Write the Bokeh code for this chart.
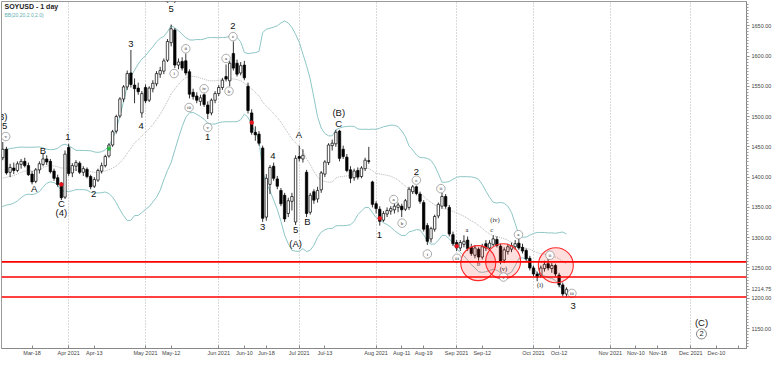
import numpy as np
import pandas as pd
from bokeh.plotting import figure
from bokeh.models import (Range1d, FixedTicker, NumeralTickFormatter,
                          Span, Label, ColumnDataSource)
from bokeh.core.properties import value
from bokeh.embed import file_html
from bokeh.resources import INLINE

# ---------------- data ----------------
# closes before the visible window (Feb 2021), only used to warm up the Bollinger band
pre_close = [1384, 1378, 1390, 1382, 1374, 1368, 1377, 1391, 1398, 1394,
             1386, 1372, 1380, 1396, 1404, 1416, 1410, 1424, 1436, 1444]

# daily bars, index 0 = 8 Mar 2021 (trading days)
open_ = [1432, 1446, 1408, 1415, 1411, 1421, 1426, 1419, 1405, 1393,
         1412, 1421, 1430, 1426, 1410, 1399, 1390, 1367, 1449, 1407,
         1418, 1423, 1408, 1413, 1401, 1385, 1395, 1410, 1419, 1435,
         1453, 1476, 1501, 1529, 1549, 1572, 1552, 1547, 1506, 1548,
         1527, 1546, 1554, 1570, 1575, 1593, 1622, 1643, 1585, 1591,
         1592, 1574, 1540, 1534, 1525, 1536, 1519, 1506, 1527, 1538,
         1548, 1566, 1559, 1604, 1588, 1572, 1585, 1550, 1506, 1474,
         1471, 1448, 1334, 1388, 1418, 1397, 1378, 1370, 1340, 1360,
         1326, 1434, 1430, 1408, 1342, 1376, 1364, 1379, 1405, 1424,
         1452, 1455, 1476, 1446, 1433, 1412, 1399, 1411, 1401, 1414,
         1427, 1392, 1356, 1347, 1329, 1339, 1344, 1346, 1350, 1352,
         1347, 1350, 1376, 1384, 1372, 1358, 1320, 1298, 1314, 1336,
         1352, 1368, 1350, 1305, 1292, 1283, 1289, 1296, 1284, 1271,
         1281, 1268, 1290, 1283, 1289, 1297, 1286, 1263, 1277, 1281,
         1285, 1291, 1284, 1279, 1266, 1250, 1240, 1238, 1249, 1257,
         1249, 1254, 1238, 1222, 1207]
high_ = [1458, 1450, 1422, 1424, 1426, 1430, 1432, 1424, 1410, 1415,
         1426, 1440, 1436, 1430, 1414, 1404, 1392, 1444, 1455, 1423,
         1428, 1426, 1418, 1416, 1404, 1400, 1414, 1424, 1437, 1456,
         1478, 1503, 1532, 1552, 1576, 1610, 1563, 1556, 1542, 1553,
         1550, 1560, 1575, 1582, 1596, 1628, 1652, 1646, 1596, 1598,
         1604, 1578, 1546, 1540, 1536, 1538, 1525, 1530, 1542, 1552,
         1564, 1586, 1592, 1624, 1594, 1590, 1592, 1556, 1512, 1484,
         1476, 1452, 1405, 1420, 1424, 1402, 1382, 1374, 1366, 1374,
         1436, 1452, 1446, 1412, 1374, 1380, 1384, 1410, 1428, 1456,
         1462, 1478, 1478, 1452, 1438, 1418, 1414, 1416, 1418, 1432,
         1450, 1394, 1360, 1352, 1344, 1350, 1352, 1358, 1358, 1356,
         1364, 1384, 1387, 1386, 1376, 1362, 1324, 1318, 1338, 1358,
         1374, 1372, 1354, 1310, 1296, 1296, 1304, 1302, 1290, 1288,
         1284, 1290, 1296, 1296, 1304, 1302, 1290, 1284, 1290, 1292,
         1296, 1300, 1290, 1282, 1270, 1254, 1244, 1254, 1262, 1266,
         1258, 1257, 1242, 1226, 1218]
low_ = [1428, 1404, 1400, 1405, 1408, 1414, 1416, 1402, 1388, 1390,
        1406, 1418, 1420, 1406, 1394, 1384, 1362, 1364, 1402, 1400,
        1410, 1405, 1402, 1398, 1380, 1382, 1392, 1406, 1416, 1432,
        1450, 1472, 1498, 1524, 1544, 1548, 1522, 1536, 1498, 1522,
        1524, 1540, 1550, 1564, 1570, 1590, 1616, 1580, 1578, 1576,
        1568, 1530, 1528, 1522, 1518, 1516, 1496, 1502, 1522, 1534,
        1544, 1558, 1550, 1576, 1566, 1568, 1560, 1505, 1470, 1460,
        1452, 1326, 1328, 1372, 1394, 1380, 1352, 1326, 1334, 1345,
        1321, 1426, 1424, 1334, 1338, 1356, 1358, 1374, 1400, 1420,
        1444, 1450, 1426, 1430, 1408, 1390, 1394, 1396, 1398, 1410,
        1422, 1350, 1340, 1320, 1326, 1334, 1338, 1340, 1342, 1334,
        1344, 1346, 1372, 1370, 1356, 1310, 1288, 1292, 1310, 1332,
        1348, 1348, 1302, 1286, 1278, 1278, 1284, 1278, 1270, 1266,
        1262, 1264, 1278, 1280, 1285, 1284, 1256, 1258, 1272, 1276,
        1280, 1280, 1274, 1262, 1246, 1236, 1228, 1234, 1244, 1246,
        1242, 1236, 1218, 1203, 1202]
close_ = [1446, 1407, 1416, 1411, 1422, 1426, 1419, 1404, 1392, 1412,
          1422, 1430, 1425, 1409, 1398, 1388, 1366, 1438, 1406, 1419,
          1424, 1408, 1414, 1401, 1384, 1396, 1411, 1419, 1434, 1453,
          1475, 1500, 1529, 1549, 1571, 1553, 1546, 1541, 1538, 1526,
          1547, 1555, 1571, 1576, 1592, 1624, 1645, 1585, 1590, 1580,
          1572, 1537, 1533, 1527, 1531, 1520, 1505, 1527, 1538, 1548,
          1560, 1562, 1588, 1580, 1570, 1584, 1564, 1510, 1474, 1470,
          1456, 1332, 1398, 1416, 1398, 1385, 1356, 1331, 1361, 1368,
          1431, 1431, 1436, 1340, 1370, 1362, 1378, 1407, 1425, 1453,
          1456, 1474, 1431, 1434, 1411, 1398, 1410, 1400, 1415, 1428,
          1426, 1355, 1348, 1327, 1340, 1345, 1348, 1352, 1354, 1346,
          1361, 1380, 1384, 1373, 1360, 1314, 1294, 1315, 1335, 1355,
          1368, 1352, 1306, 1290, 1283, 1292, 1294, 1282, 1274, 1283,
          1268, 1285, 1283, 1291, 1298, 1287, 1261, 1280, 1285, 1287,
          1290, 1283, 1278, 1265, 1250, 1240, 1235, 1250, 1256, 1250,
          1254, 1240, 1222, 1207, 1214.75]

# date axis (bar index -> label)
tick_idx = [8, 18, 25, 39, 46, 59, 66, 72, 81, 88, 102, 109, 115, 124, 131,
            145, 152, 166, 173, 179, 188, 195, 201]
tick_labels = ["Mar-18", "Apr 2021", "Apr-13", "May 2021", "May-12", "Jun 2021",
               "Jun-10", "Jun-18", "Jul 2021", "Jul-13", "Aug 2021", "Aug-11",
               "Aug-19", "Sep 2021", "Sep-12", "Oct 2021", "Oct-12", "Nov 2021",
               "Nov-10", "Nov-18", "Dec 2021", "Dec-10", ""]
month_idx = [18, 39, 59, 81, 102, 124, 145, 166, 188]

# price axis
price_ticks = [1150, 1200, 1250, 1300, 1350, 1400, 1450, 1500, 1550, 1600, 1650]

# horizontal support / resistance levels
levels = [1260, 1235, 1202]
last_price = 1214.75

# Elliott wave labels
wave_big_txt = ["(3)", "5", "A", "B", "C", "(4)", "1", "2", "3", "4", "(3)", "5", "1", "2",
                "3", "4", "A", "5", "(A)", "B", "C", "(B)", "1", "2", "3", "(C)"]
wave_big_x = [-0.3, 0.5, 8.6, 10.95, 16, 16, 17.8, 24.8, 35, 37.8, 46, 46, 56, 62.9,
              71, 73.8, 80.9, 80, 80, 83.2, 91.8, 91.8, 102.9, 113, 155.8, 190.9]
wave_big_y = [1500, 1484, 1381, 1444, 1357, 1342, 1467, 1372, 1619, 1484, 1696, 1678, 1467, 1649,
              1317, 1435, 1470, 1313, 1291, 1327, 1489, 1506, 1305, 1409, 1187, 1160]

wave_circ_txt = ["v", "i", "ii", "iii", "iv", "v", "a", "b", "c", "a", "b", "c",
                 "i", "ii", "iii", "v", "a", "ii", "iii"]
wave_circ_x = [0.8, 46.8, 50, 50.9, 55, 56, 61, 61.8, 62.9, 106.8, 109.1, 113,
               116, 119.7, 124.1, 136.8, 140.9, 149.5, 155.5]
wave_circ_y = [1467, 1571, 1612, 1515, 1546, 1482, 1596, 1542, 1632, 1363, 1324, 1395,
               1273, 1381, 1266, 1235, 1305, 1271, 1208]

wave_small_txt = ["a", "b", "c", "(iv)", "(v)", "(i)"]
wave_small_x = [126.8, 130, 133.6, 134.5, 136.8, 146.8]
wave_small_y = [1313, 1257, 1313, 1330, 1249, 1223]

red_dot_x = [16, 68, 103, 124]
red_dot_y = [1388, 1490, 1332, 1286]
green_dot_x = [29]
green_dot_y = [1447]

zone_x = [129.9, 136.7, 151.1]
zone_y = [1258, 1261, 1254.5]

# ---------------- figure ----------------
n = len(close_)
idx = np.arange(n)
o = np.array(open_, float)
h = np.array(high_, float)
l = np.array(low_, float)
c = np.array(close_, float)
up = c >= o

X0, X1 = -0.354, 203.2
p = figure(width=774, height=358, output_backend="svg", toolbar_location=None,
           x_range=Range1d(X0, X1), y_range=Range1d(1117, 1690),
           y_axis_location="right", min_border_left=1, min_border_top=1,
           min_border_right=0, min_border_bottom=0)
p.background_fill_color = "white"
p.border_fill_color = "white"
p.outline_line_color = "#9a9a9a"
p.outline_line_width = 1

# axes
ya = p.yaxis[0]
ya.ticker = FixedTicker(ticks=price_ticks + [last_price],
                        minor_ticks=list(range(1120, 1690, 5)))
ya.formatter = NumeralTickFormatter(format="0.00")
ya.major_label_text_font = "Liberation Sans"
ya.major_label_text_font_size = "5.5px"
ya.major_label_text_color = "#444444"
ya.major_tick_in = 0
ya.major_tick_out = 3
ya.minor_tick_in = 0
ya.minor_tick_out = 2
ya.major_label_standoff = 2
ya.axis_line_color = "#888888"
ya.major_tick_line_color = "#888888"
ya.minor_tick_line_color = "#999999"

xa = p.xaxis[0]
xa.ticker = FixedTicker(ticks=tick_idx)
xa.major_label_overrides = {t: s for t, s in zip(tick_idx, tick_labels)}
xa.major_label_text_font = "Liberation Sans"
xa.major_label_text_font_size = "5.5px"
xa.major_label_text_color = "#444444"
xa.major_tick_in = 3
xa.major_tick_out = 0
xa.minor_tick_line_color = None
xa.major_label_standoff = 1
xa.axis_line_color = "#888888"
xa.major_tick_line_color = "#888888"

p.ygrid.visible = False
p.xgrid.ticker = FixedTicker(ticks=month_idx)
p.xgrid.grid_line_color = "#b5b5b5"
p.xgrid.grid_line_dash = "1 2"
p.xgrid.grid_line_width = 1

# Bollinger bands (20, 2)
allc = pd.Series(pre_close + list(c))
mid = allc.rolling(20).mean()
sd = allc.rolling(20).std(ddof=0)
xs_all = np.arange(-len(pre_close), n)
ok = ~mid.isna().values
bx = xs_all[ok]
p.line(bx, (mid + 2 * sd).values[ok], line_color="#8ec6c6", line_width=1)
p.line(bx, (mid - 2 * sd).values[ok], line_color="#8ec6c6", line_width=1)
p.line(bx, mid.values[ok], line_color="#a3a3a3", line_width=0.8, line_dash="1 1")

# candles
src = ColumnDataSource(dict(x=idx, top=np.maximum(o, c), bottom=np.minimum(o, c),
                            high=h, low=l,
                            fill=np.where(up, "white", "black")))
p.segment(x0="x", y0="low", x1="x", y1="high", source=src, line_color="black", line_width=0.8)
p.vbar(x="x", width=0.66, top="top", bottom="bottom", source=src,
       fill_color="fill", line_color="black", line_width=0.7)

p.scatter(red_dot_x, red_dot_y, size=3.5, marker="circle", fill_color="#e8141e", line_color="#e8141e")
p.scatter(green_dot_x, green_dot_y, size=3.5, marker="circle", fill_color="#2fb34a", line_color="#2fb34a")

# red zones and levels
p.scatter(zone_x, zone_y, size=35, marker="circle", fill_color="#ff0000", fill_alpha=0.13,
          line_color="#ff2a2a", line_width=1.1)
for lv in levels:
    p.add_layout(Span(location=lv, dimension="width", line_color="#ff0000", line_width=1.6))

# wave labels
p.text(wave_big_x, wave_big_y, text=wave_big_txt, text_font=value("Liberation Sans"),
       text_font_size=value("9.5px"), text_align="center", text_baseline="middle",
       text_color="#111111")
p.scatter(wave_circ_x, wave_circ_y, size=8.5, marker="circle", fill_color="white",
          line_color="#777777", line_width=0.6)
p.text(wave_circ_x, wave_circ_y, text=wave_circ_txt, text_font=value("Liberation Serif"),
       text_font_size=value("5px"), text_align="center", text_baseline="middle",
       text_color="#222222")
p.scatter([190.9], [1141], size=10, marker="circle", fill_color="white",
          line_color="#555555", line_width=0.7)
p.text([190.9], [1141], text=["2"], text_font=value("Liberation Sans"),
       text_font_size=value("7.5px"), text_align="center", text_baseline="middle",
       text_color="#222222")
p.text(wave_small_x, wave_small_y, text=wave_small_txt, text_font=value("Liberation Serif"),
       text_font_size=value("6.5px"), text_align="center", text_baseline="middle",
       text_color="#222222")

# title
p.add_layout(Label(x=X0, y=1690, x_offset=3, y_offset=-1, text="SOYUSD - 1 day",
                   text_font="Liberation Sans", text_font_size="7px", text_font_style="bold",
                   text_baseline="top", text_color="#222222"))
p.add_layout(Label(x=X0, y=1690, x_offset=3, y_offset=-10, text="BB(20,20,2.0,2.0)",
                   text_font="Liberation Sans", text_font_size="5px",
                   text_baseline="top", text_color="#5fb0b0"))

open("out.html", "w").write(file_html(p, INLINE))
